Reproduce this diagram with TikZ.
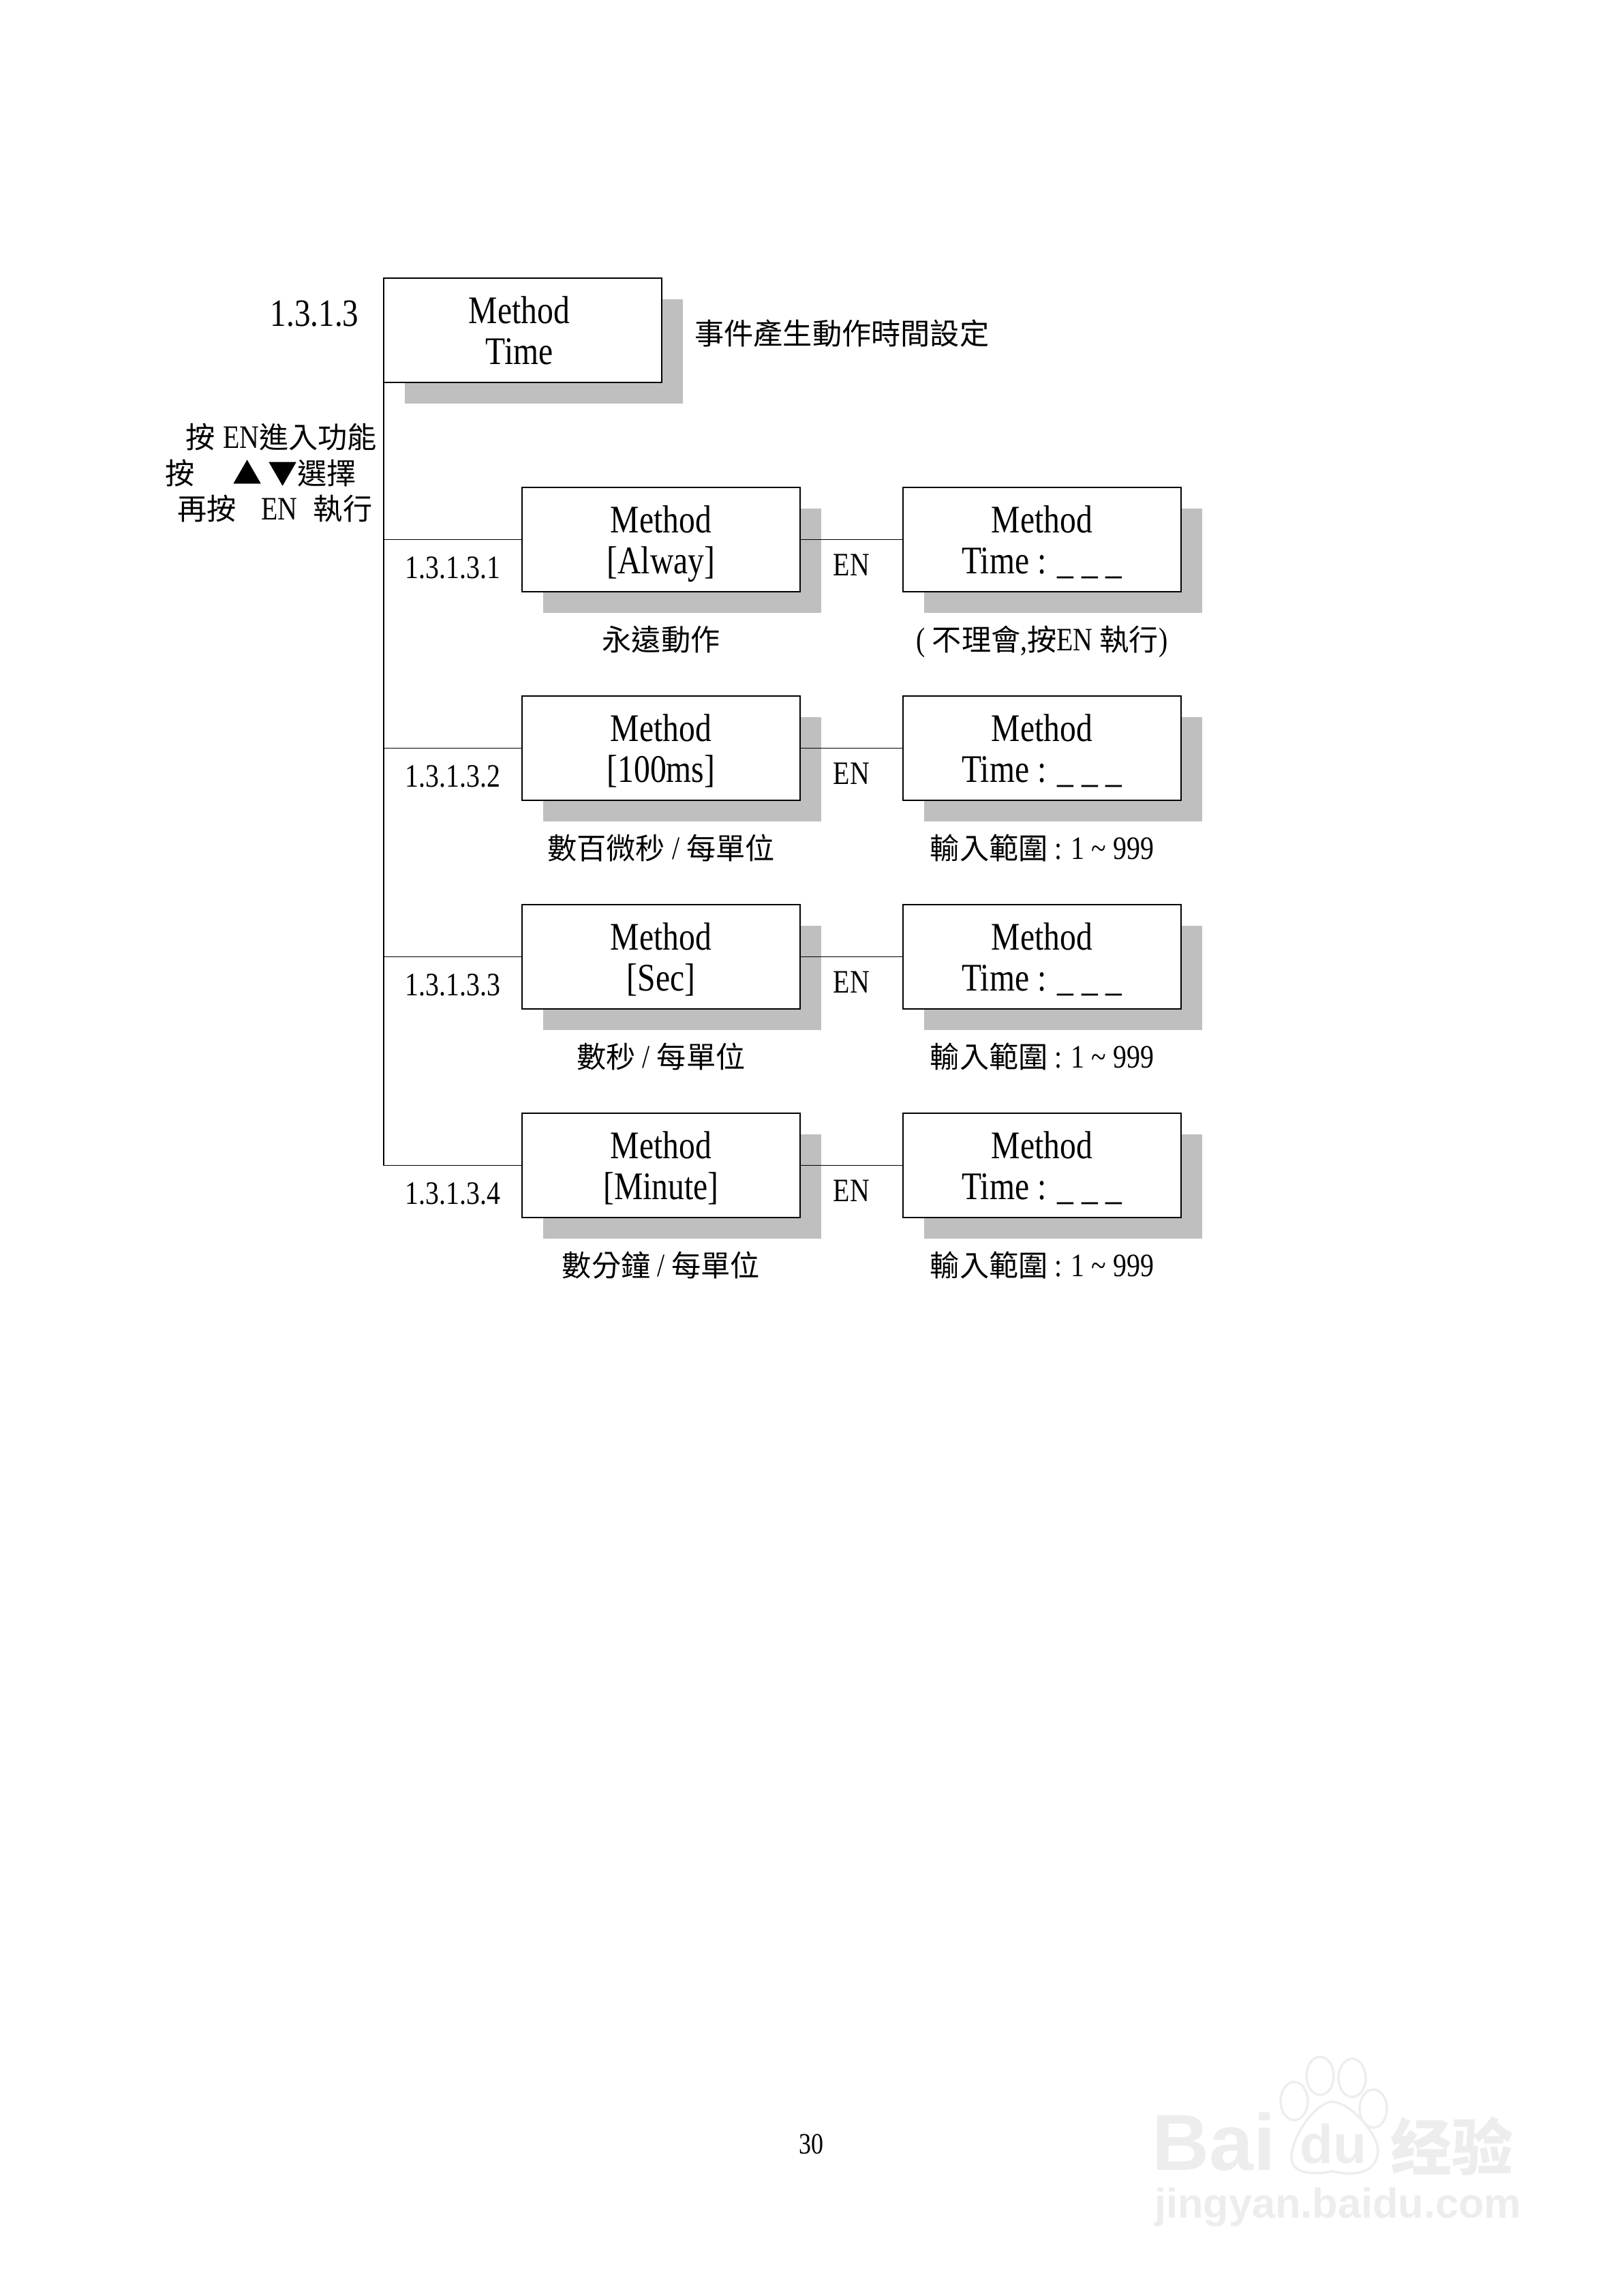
\documentclass[tikz,border=0pt]{standalone}
\usepackage{fontspec}
\setmainfont[FakeStretch=0.83]{Liberation Serif}
\newfontfamily\cjk[Scale=0.9]{Noto Sans CJK TC}
\newfontfamily\cjkmark{Noto Sans CJK SC}
\newfontfamily\markfont{Liberation Sans}
\usetikzlibrary{positioning, shadows}
\definecolor{shadowgrey}{HTML}{BFBFBF}
\definecolor{markgrey}{HTML}{EDEDED}
\tikzset{
  menubox/.style={draw=black, line width=0.4pt, fill=white, outer sep=0pt, align=center,
    minimum width=122.4pt, minimum height=45.9pt, font=\fontsize{17.2}{18}\selectfont,
    drop shadow={shadow xshift=9.3pt, shadow yshift=-9.3pt, fill=shadowgrey, opacity=1}},
  smalltext/.style={inner sep=0pt, outer sep=0pt, font=\fontsize{14.4}{16}\selectfont},
  link/.style={draw=black, line width=0.4pt},
  marktext/.style={inner sep=0pt, text=markgrey, font=\markfont\bfseries},
  markpaw/.style={draw=markgrey, line width=1pt}
}

\begin{document}
\begin{tikzpicture}
  \useasboundingbox (0,0) rectangle (714pt,-1010.4pt);
  % Top menu entry with its number and note
  \node[menubox, anchor=north west] (mainBox) at (168.9pt,-122.4pt) {Method\hspace*{3pt}\\Time\hspace*{3pt}};
  \node[smalltext, font=\fontsize{17}{18}\selectfont, above left=-21.5pt and 11pt of mainBox.north west] (mainNumber) {1.3.1.3};
  \node[smalltext, right=14.5pt of mainBox, yshift=-1.5pt] (mainNote) {\cjk 事件產生動作時間設定};

  % Key instructions left of the trunk
  \node[smalltext, below left=18pt and 3pt of mainBox.south west] (pressOne) {\cjk 按\hspace{3.5pt}{\rmfamily EN}進入功能};
  \node[smalltext, below left=34pt and 12pt of mainBox.south west] (pressTwo) {\cjk 按\hspace{17pt}▲\hspace{2.5pt}▼選擇};
  \node[smalltext, below left=49.5pt and 5pt of mainBox.south west] (pressThree) {\cjk 再按\hspace{11pt}{\rmfamily EN}\hspace{7pt}執行};

  % Left column of options
  \node[menubox, anchor=north west] (alwayBox) at (229.8pt,-214.5pt) {Method\\\smash{[Alway]}};
  \node[menubox, below=45.9pt of alwayBox] (msBox) {Method\\\smash{[100ms]}};
  \node[menubox, below=45.9pt of msBox] (secBox) {Method\\\smash{[Sec]}};
  \node[menubox, below=45.9pt of secBox] (minuteBox) {Method\\\smash{[Minute]}};

  % Right column, time entry
  \node[menubox, right=45.3pt of alwayBox] (alwayTime) {Method\\\smash{Time : \_ \_ \_}};
  \node[menubox, right=45.3pt of msBox] (msTime) {Method\\\smash{Time : \_ \_ \_}};
  \node[menubox, right=45.3pt of secBox] (secTime) {Method\\\smash{Time : \_ \_ \_}};
  \node[menubox, right=45.3pt of minuteBox] (minuteTime) {Method\\\smash{Time : \_ \_ \_}};

  % Trunk and branches
  \draw[link] (mainBox.south west) |- (minuteBox.west);
  \draw[link] (mainBox.south west |- alwayBox.west) -- (alwayBox.west);
  \draw[link] (mainBox.south west |- msBox.west) -- (msBox.west);
  \draw[link] (mainBox.south west |- secBox.west) -- (secBox.west);
  \draw[link] (alwayBox) -- node[smalltext, below=6.6pt] (alwayEn) {EN} (alwayTime);
  \draw[link] (msBox) -- node[smalltext, below=6.6pt] (msEn) {EN} (msTime);
  \draw[link] (secBox) -- node[smalltext, below=6.6pt] (secEn) {EN} (secTime);
  \draw[link] (minuteBox) -- node[smalltext, below=6.6pt] (minuteEn) {EN} (minuteTime);

  % Option numbers
  \node[smalltext, below left=7.5pt and 9.6pt of alwayBox.west] (alwayNumber) {1.3.1.3.1};
  \node[smalltext, below left=7.5pt and 9.6pt of msBox.west] (msNumber) {1.3.1.3.2};
  \node[smalltext, below left=7.5pt and 9.6pt of secBox.west] (secNumber) {1.3.1.3.3};
  \node[smalltext, below left=7.5pt and 9.6pt of minuteBox.west] (minuteNumber) {1.3.1.3.4};

  % Captions under the boxes
  \node[smalltext, below=15pt of alwayBox] (alwayNote) {\cjk 永遠動作};
  \node[smalltext, below=15pt of msBox] (msNote) {{\cjk 數百微秒} / {\cjk 每單位}};
  \node[smalltext, below=15pt of secBox] (secNote) {{\cjk 數秒} / {\cjk 每單位}};
  \node[smalltext, below=15pt of minuteBox] (minuteNote) {{\cjk 數分鐘} / {\cjk 每單位}};
  \node[smalltext, below=15pt of alwayTime] (alwayRange) {( {\cjk 不理會},{\cjk 按}EN {\cjk 執行})};
  \node[smalltext, below=15pt of msTime] (msRange) {{\cjk 輸入範圍} : 1 \textasciitilde\ 999};
  \node[smalltext, below=15pt of secTime] (secRange) {{\cjk 輸入範圍} : 1 \textasciitilde\ 999};
  \node[smalltext, below=15pt of minuteTime] (minuteRange) {{\cjk 輸入範圍} : 1 \textasciitilde\ 999};

  % Page number
  \node[smalltext, font=\fontsize{13}{14}\selectfont] (pageNumber) at (357pt,-943.5pt) {30};

  % Watermark, bottom right
  \node[marktext, font=\markfont\bfseries\fontsize{35}{35}\selectfont, anchor=base west] (markBai) at (507pt,-954.9pt) {Bai};
  \node[marktext, font=\markfont\bfseries\fontsize{24}{24}\selectfont, anchor=base] (markDu) at (587pt,-952pt) {du};
  \node[marktext, font=\cjkmark\bfseries\fontsize{27}{27}\selectfont, anchor=base west] (markWord) at (612pt,-954.9pt) {经验};
  \node[marktext, font=\markfont\bfseries\fontsize{18.4}{20}\selectfont, anchor=base west] (markSite) at (508pt,-976pt) {jingyan.baidu.com};
  \begin{scope}[x=0.3pt, y=-0.3pt]
    \draw[markpaw] (1899,3082) ellipse (20 and 28);
    \draw[markpaw] (1937,3045) ellipse (20 and 28);
    \draw[markpaw] (1984,3048) ellipse (20 and 28);
    \draw[markpaw] (2015,3093) ellipse (20 and 28);
    \draw[markpaw] (1953,3083) .. controls (1925,3088) and (1893,3140) .. (1895,3167)
      .. controls (1897,3190) and (1930,3190) .. (1955,3185)
      .. controls (1985,3192) and (2020,3190) .. (2022,3155)
      .. controls (2022,3130) and (1980,3082) .. (1953,3083);
  \end{scope}
\end{tikzpicture}
\end{document}
